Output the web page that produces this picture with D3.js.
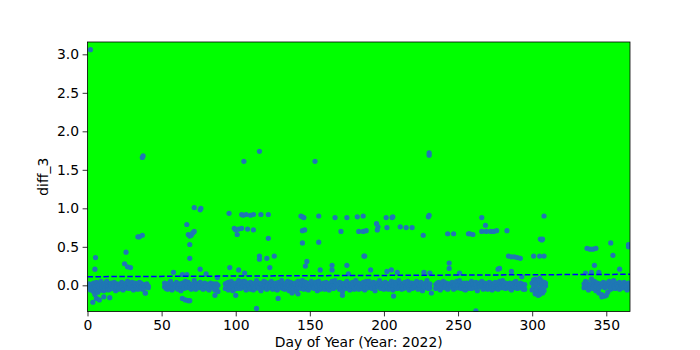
<!DOCTYPE html>
<html>
<head>
<meta charset="utf-8">
<script src="https://cdn.jsdelivr.net/npm/d3@7"></script>
<style>
  body { margin: 0; background: #fff; }
  text { font-family: "DejaVu Sans", sans-serif; }
</style>
</head>
<body>
<script>
// Axis settings
const xTicks = [0, 50, 100, 150, 200, 250, 300, 350];
const yTicks = [0.0, 0.5, 1.0, 1.5, 2.0, 2.5, 3.0];
const xLabel = "Day of Year (Year: 2022)";
const yLabel = "diff_3";

// Dense band around zero: first day of each run, then pairs of values (hundredths) per day
const bandStarts = [1, 52, 93, 235, 300, 335];
const bandA = [-3,2, -6,1, 0,-4, -8,3, -2,-12, 4,-5, -1,-9, 2,-3, -6,5, -3,0,
  1,-7, -4,3, 5,-2, -1,-6, -5,2, 3,-1, -2,-4, 0,4, -3,-7, 2,-2,
  -5,1, 1,-3, -2,4, 3,-6, -4,0, 0,-2, -3,5, 2,-4, -1,1, 4,-3,
  -2,-6, 1,3, -4,-1, 2,-5, -1,4, 3,-2, -5,0, 1,-3, -2,-10, 0,2, -3,-1];
const bandB = [-2,3, 1,-4, -5,0, 3,-2, -1,5, 2,-6, -3,1, 0,-3, 4,-1, -2,-5,
  1,2, -4,-7, 3,0, -1,-4, 5,2, -3,-1, 0,4, 2,-3, -5,1, 1,-2,
  -2,6, 3,-5, -1,0, 0,-3, 4,2, -3,-1, 1,-5, -1,3, 2,-2, -4,0,
  0,-6, 3,1, -2,-3, 1,2, -6,-1, 2,-4, 0,-8];
const bandC = [2,-4, -1,3, 4,-6, 0,-2, -3,5, 1,-7, -5,2, 3,-1, -2,-4, 0,6,
  -4,1, 2,-3, -1,5, 5,-2, -3,-6, 1,3, -2,0, 4,-5, 0,2, -6,-1,
  3,-4, -1,6, 1,-2, -4,3, 2,-7, -2,0, 5,-3, -1,4, 0,-5, 3,1,
  -3,-2, 1,5, -5,0, 2,-4, 0,3, -2,-6, 4,1, -1,-3, 2,6, -4,-1,
  1,-5, -2,3, 5,-2, 0,-7, -3,4, 2,-1, -1,-4, 3,2, -5,-8, 0,5,
  2,-3, -4,1, 1,6, -1,-5, 4,0, -2,3, 0,-6, 3,-2, -3,5, 1,-1,
  -2,-4, 4,2, -1,-7, 2,5, -5,0, 0,-3, 3,1, -1,-5, 1,4, -4,-2,
  2,-6, -1,3, 5,-1, -3,-4, 0,6, 2,-2, -2,1, 4,-5, -4,3, 1,-8,
  -1,2, 3,-4, 0,5, -3,-1, 2,-6, -1,3, 4,0, -5,-3, 1,6, -2,-2,
  3,-5, 0,2, -4,-1, 2,4, -1,-6, 5,1, -3,-3, 1,5, -2,0, 0,-4,
  4,2, -3,-7, 1,3, -1,-2, 2,6, -4,-4, 0,1, 3,-5, -2,4, 1,-1,
  -5,2, 2,-3, 0,5, -1,-6, 4,0, -3,3, 1,-4, -2,6, 3,-2, 0,-5,
  -4,1, 2,4, -1,-3, 5,-1, -2,-6, 0,3, 3,-4, -3,2, 1,-2, -1,5,
  2,-5, -4,0, 4,3, 0,-7, -2,1, 3,-3, -1,6, 1,-4, -3,2];
const bandD = [1,-4, -2,3, 4,-1, 0,-6, -3,2, 2,5, -1,-3, 3,0, -4,-5, 1,2,
  -1,-2, 3,4, 0,-5, -2,1, 5,-3, -3,0, 1,6, -1,-4, 2,-1, -5,3,
  0,-6, 3,2, -2,-1, 1,-4, -4,5, 2,0, -1,-3, 4,1, -3,-7, 0,3,
  2,-2, -1,5, -5,-4, 3,0, 0,2, -2,-5, 4,-1, -1,3, 1,-6, -3,1,
  2,4, -4,-2, 0,-5, 5,1, -1,-3, 1,6, -3,0, 3,-4, -2,2, 0,-1,
  -4,3, 2,-6, -1,0, 4,-2, -3,5, 1,-4, -2,1, 3,-3, 0,2, -5,-1, 1,-5];
const bandE = [3,-6, -2,7, 8,-11, -4,5, 2,-13, -8,9, 6,-3, -10,1, 4,-7, -1,3];
const bandF = [2,-3, -1,5, 4,-2, 0,-6, -3,1, 2,8, -2,-4, 5,0, -1,-7, 1,3,
  -4,-10, 2,-2, -1,-12, 0,4, -3,-14, 3,-1, -2,-9, 1,5, -5,-3, 2,0,
  -1,6, 0,-4, 3,1, -2,-2, 4,-5, -1,2, 1,-3, -3,4, 2,-1, 0,-6, 3,1, -2,-3];
const bands = [bandA, bandB, bandC, bandD, bandE, bandF];

// Scattered points away from the band: [day, diff_3]
const outliers = [
  [2,3.06],[37,1.66],[37.5,1.68],[105.5,1.61],[116,1.74],[153.5,1.61],[230.5,1.72],[230.5,1.69],
  [72,1.01],[76,0.98],[76.5,1.0],[95.5,0.935],[104,0.92],[105,0.91],[107,0.92],[110,0.91],[112,0.92],
  [117,0.92],[122,0.92],[144,0.9],[145,0.89],[146,0.88],[156,0.9],[167,0.88],[175,0.88],[182,0.89],
  [186,0.9],[201.5,0.88],[205.5,0.88],[206,0.89],[230,0.89],[230.5,0.91],[266,0.88],[308,0.9],
  [67,0.79],[68,0.66],[69,0.64],[70,0.65],[71,0.68],[72,0.7],[34,0.63],[35,0.63],[37,0.65],
  [99,0.74],[100,0.72],[102,0.73],[104,0.74],[101,0.66],[108,0.73],[112,0.72],[122,0.61],
  [145,0.71],[146.5,0.72],[145,0.55],[156,0.56],[171,0.70],[183,0.70],[186,0.70],[188,0.71],
  [195,0.80],[196,0.76],[195.5,0.72],[202,0.75],[211,0.76],[215,0.75],[219,0.75],[226.5,0.65],
  [243,0.67],[247,0.67],[257,0.67],[258,0.67],[260,0.66],[268.5,0.78],[266,0.70],[269,0.70],
  [272,0.70],[274,0.70],[276,0.71],[283,0.71],[305.5,0.60],[307,0.60],[69,0.53],[353,0.55],[365,0.53],
  [284,0.38],[286,0.37],[288,0.37],[290,0.36],[292,0.35],[301,0.38],[305,0.38],[308,0.38],
  [337,0.48],[339,0.47],[341,0.47],[343,0.48],[354.5,0.39],[365,0.50],[342,0.26],[306.5,0.59],
  [5.4,0.36],[5,0.21],[26,0.43],[25,0.28],[27,0.24],[29,0.23],[3.6,-0.22],[6,-0.17],[8,-0.19],
  [11,-0.15],[15,-0.16],[69,0.35],[58,0.17],[64,0.14],[67,0.14],[76,0.21],[80,0.15],[87.6,0.1],
  [64,-0.17],[66,-0.19],[68,-0.2],[69,-0.2],[86,-0.13],[39,-0.1],
  [96,0.23],[102,0.2],[106,0.16],[116,0.38],[116,0.34],[121,0.35],[126,0.38],[123,0.23],
  [114,-0.30],[128.6,-0.17],[147,0.25],[148,0.31],[157,0.2],[165,0.26],[165,0.2],[175,0.26],
  [176,0.15],[186.5,0.38],[172,-0.13],[100,-0.13],[138,-0.1],[142,-0.11],
  [187,0.38],[191,0.2],[202,0.18],[205,0.2],[209,0.17],[227,0.17],[231,0.16],[244,0.29],
  [244,0.22],[251,0.16],[206.5,-0.14],[232,-0.1],[262,-0.33],[277,0.21],
  [278,0.22],[359,0.21],[286,0.18],[293,0.11],[336,0.16],[340,0.17],[345,0.17],[303,-0.09],
  [305,-0.12],[304,0.06],[306,-0.08],[302,0.03],[350,-0.13],[347,-0.15]
];

// Dashed trend line endpoints
const trendDays = [0, 366];
const trendValues = [0.112, 0.143];

function drawChart() {
    // Size
    const width = 700;
    const height = 350;
    const margin = {left: 87.5, right: 70, top: 42, bottom: 38.5};
    const plotW = width - margin.left - margin.right;
    const plotH = height - margin.top - margin.bottom;

    // Data
    const points = [];
    bands.forEach((band, b) => {
        for (let i = 0; i < band.length; i += 2) {
            const day = bandStarts[b] + i / 2;
            points.push([day, band[i] / 100]);
            points.push([day, band[i + 1] / 100]);
        }
    });
    outliers.forEach(p => points.push(p));

    const svg = d3.select("body").append("svg")
      .attr("width", width)
      .attr("height", height);

    const x = d3.scaleLinear().domain([0, 366]).range([0, plotW]);
    const y = d3.scaleLinear().domain([-0.34, 3.16]).range([plotH, 0]);

    const g = svg.append("g")
      .attr("transform", `translate(${margin.left},${margin.top})`);

    // Green axes background
    g.append("rect")
      .attr("width", plotW)
      .attr("height", plotH)
      .attr("fill", "#00ff00");

    svg.append("defs").append("clipPath")
      .attr("id", "plotClip")
      .append("rect")
      .attr("width", plotW)
      .attr("height", plotH);

    const plot = g.append("g").attr("clip-path", "url(#plotClip)");

    plot.selectAll("circle")
      .data(points)
      .join("circle")
      .attr("cx", d => x(d[0]))
      .attr("cy", d => y(d[1]))
      .attr("r", 2.6)
      .attr("fill", "#1f77b4");

    plot.append("line")
      .attr("x1", x(trendDays[0]))
      .attr("y1", y(trendValues[0]))
      .attr("x2", x(trendDays[1]))
      .attr("y2", y(trendValues[1]))
      .attr("stroke", "#0000ff")
      .attr("stroke-width", 1.5)
      .attr("stroke-dasharray", "5.55,2.4");

    // Axes
    const fontSize = "13.9px";
    const xAxis = g.append("g")
      .attr("transform", `translate(0,${plotH})`)
      .call(d3.axisBottom(x).tickValues(xTicks).tickFormat(d3.format("d"))
        .tickSize(4.9).tickPadding(3.5));
    const yAxis = g.append("g")
      .call(d3.axisLeft(y).tickValues(yTicks).tickFormat(d3.format(".1f"))
        .tickSize(4.9).tickPadding(3.5));
    [xAxis, yAxis].forEach(a => {
        a.select(".domain").remove();
        a.selectAll(".tick line").attr("stroke", "#000").attr("stroke-width", 0.8);
        a.selectAll(".tick text")
          .attr("fill", "#000")
          .style("font-size", fontSize)
          .style("font-family", "'DejaVu Sans', sans-serif");
    });

    // Spines
    g.append("rect")
      .attr("width", plotW)
      .attr("height", plotH)
      .attr("fill", "none")
      .attr("stroke", "#000")
      .attr("stroke-width", 0.8);

    // Labels (kept just inside the bottom edge)
    svg.append("text")
      .attr("x", margin.left + plotW / 2)
      .attr("y", 346.5)
      .attr("text-anchor", "middle")
      .style("font-size", fontSize)
      .text(xLabel);

    svg.append("text")
      .attr("transform", `translate(48,${margin.top + plotH / 2}) rotate(-90)`)
      .attr("text-anchor", "middle")
      .style("font-size", fontSize)
      .text(yLabel);
}

drawChart();
</script>
</body>
</html>
